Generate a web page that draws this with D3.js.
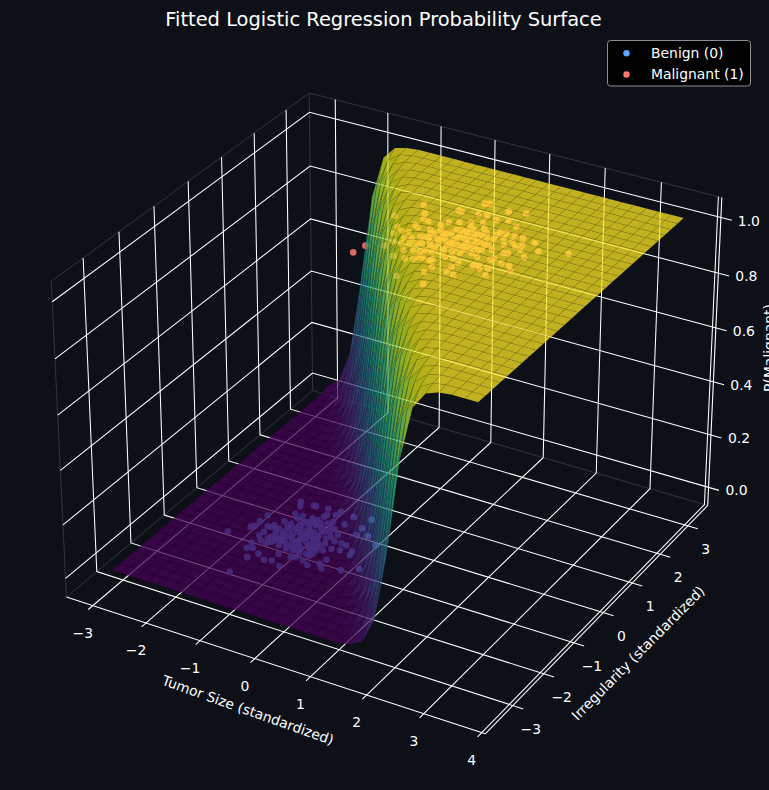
<!DOCTYPE html>
<html><head><meta charset="utf-8">
<script src="https://cdnjs.cloudflare.com/ajax/libs/d3/7.8.5/d3.min.js"></script>
<style>html,body{margin:0;padding:0;background:#0d1117;overflow:hidden}svg{display:block}text{font-family:"DejaVu Sans",sans-serif}</style>
</head><body><div id="c"></div>
<script>
const title="Fitted Logistic Regression Probability Surface";
const xLabel="Tumor Size (standardized)", yLabel="Irregularity (standardized)", zLabel="P(Malignant)";
const xTicks=[-3,-2,-1,0,1,2,3,4], yTicks=[-3,-2,-1,0,1,2,3], zTicks=[0,0.2,0.4,0.6,0.8,1];
const xLimits=[-3.5,4.06], yLimits=[-3.87,3.74], zLimits=[-0.07,1.071];
const surfaceXRange=[-3,3.56], surfaceYRange=[-3.3,3.43];
// first rising column of each grid row (left of it P is 0, past its 8 values P is 1)
const bandStart=[20,20,19,18,18,17,16,16,15,14,13,13,12,11,11,10,9,9,8,7,7,6,5,5,4,3,3,2,1,1,0];
const bandValues=[
[.008,.034,.129,.385,.725,.918,.979,.995],
[.021,.084,.281,.622,.874,.967,.992,.998],
[.013,.054,.196,.507,.813,.949,.987,.997],
[.008,.035,.132,.392,.731,.921,.980,.995],
[.022,.086,.287,.629,.878,.968,.992,.998],
[.014,.056,.201,.515,.818,.950,.988,.997],
[.009,.036,.136,.399,.737,.923,.981,.995],
[.023,.089,.293,.636,.881,.969,.993,.998],
[.014,.057,.206,.522,.822,.952,.988,.997],
[.009,.037,.139,.406,.743,.925,.981,.995],
[.006,.023,.092,.299,.643,.885,.970,.993],
[.015,.059,.211,.530,.826,.953,.988,.997],
[.009,.038,.143,.413,.748,.927,.982,.996],
[.006,.024,.094,.306,.650,.888,.971,.993],
[.015,.061,.216,.537,.831,.954,.989,.997],
[.009,.039,.147,.421,.754,.929,.982,.996],
[.006,.025,.097,.312,.657,.891,.972,.993],
[.016,.062,.221,.545,.835,.956,.989,.997],
[.010,.040,.151,.428,.760,.931,.983,.996],
[.006,.025,.100,.319,.664,.894,.973,.993],
[.016,.064,.226,.552,.839,.957,.989,.997],
[.010,.041,.154,.435,.765,.933,.983,.996],
[.006,.026,.102,.325,.670,.897,.973,.994],
[.016,.066,.231,.560,.843,.958,.990,.998],
[.010,.042,.158,.443,.770,.935,.984,.996],
[.006,.027,.105,.332,.677,.899,.974,.994],
[.017,.068,.237,.567,.847,.959,.990,.998],
[.011,.043,.162,.450,.776,.936,.984,.996],
[.007,.028,.108,.338,.684,.902,.975,.994],
[.017,.070,.242,.574,.851,.960,.990,.998],
[.011,.045,.167,.458,.781,.938,.985,.996]];
const benignX=[-2.03,-1.36,-1.35,-1.50,-1.52,-1.42,-1.25,-1.08,-.96,-.77,-.40,-.25,-.16,.14,.37,-.22,.03,0,.24,-.01,-.21,-.21,-.18,-.50,-.51,-.76,-.58,-.99,-1.20,-1.24,-1.49,-1.42,-1.37,-1.23,-1.73,-1.74,-1.78,-1.74,-1.56,-1.50,-1.36,-1.40,-1.27,-1.13,-1.09,-.96,-.92,-.90,-.71,-1.53,-1.43,-1.36,-1.24,-1.10,-1.03,-.99,-.95,-.89,-.82,-.78,-.61,-.44,-.26,-.32,-.51,-.66,-.78,-.82,-.83,-.69,-.75,-.59,-.50,-.95,-.97,-.18,-.90,-.97,-.55,-.17,-.39,-1.13,-1.19,-1.21,-1.33,-1.34,-1.52,-.78,-.41,-.62,-.53,-1.01,-.79,-.67,-.90,-1.11,-1.15,-1.07,-.67,-.51,-.68,-.86,-1.05,-1.26,-1.27,-1.48,-.76,-.66,-.91,-.88,-.92,-.96,-1.13,-.76,-.70,-.68,-.58,-.74,-.86,-1.05,-.88,-1.24,-1.22,-1.26,-1.31,-.59,-.49,-.51,-.52,-.78,-1.11,-1.02,-.95,-1.41];
const benignY=[-1.38,-2.40,-1.89,-1.66,-1.48,-1.60,-1.71,-1.82,-1.78,-1.86,-1.61,-1.48,-1.58,-1.48,-1.30,-1.32,-1.01,-.90,-.55,-.37,-.22,.09,-.44,.02,-.26,.05,-.46,.03,0,0,0,-.13,-.37,-.37,-.64,-.86,-1.08,-1.02,-.92,-.92,-.89,-.66,-.67,-.64,-.50,-.36,-.22,-.15,-.28,-1.23,-1.35,-1.25,-1.24,-1.33,-1.23,-1.09,-.89,-.79,-.70,-.55,-.57,-.59,-.78,-1.00,-1.05,-1.01,-1.02,-1.17,-1.35,-1.38,-1.54,-1.33,-1.28,-1.36,-1.55,-.97,-.51,-.61,-.78,-.79,-.78,-.76,-.85,-1.04,-1.05,-1.18,-1.10,-.08,-1.11,-1.17,-1.53,-.75,-.85,-.84,-1.04,-1.04,-1.18,-.96,-1.14,-1.16,-1.50,-.42,-.36,-.48,-.78,-.84,-.37,-.43,-.69,-.96,-1.11,-1.25,-1.17,-.84,-.74,-.61,-1.09,-1.24,-.89,-.83,-1.26,-.94,-1.17,-1.31,-1.39,-.97,-.92,-.69,-1.35,-1.32,-.57,-.46,-.48,-.92];
const malignantX=[-.36,-.31,-.05,-.42,-.21,-.05,.03,.13,.43,.36,.43,.70,.84,.61,.68,1.07,1.34,1.04,1.21,.91,.74,.57,.35,-.20,-.07,-.14,.05,.02,.09,0,.32,.36,.44,.58,.66,.82,.89,1.02,1.29,1.39,1.54,1.41,1.69,1.93,1.79,1.72,2.11,2.55,1.84,1.73,1.67,1.32,1.20,1.17,.95,.89,.78,.64,.53,.42,.28,.19,.09,.27,.40,.56,.67,.81,.81,.94,1.10,1.13,1.28,1.46,1.62,1.80,1.94,2.04,1.70,1.46,1.54,1.59,1.78,1.34,1.19,.81,.79,.93,.91,.60,1.09,.24,.43,.54,.57,.66,.94,1.08,1.21,1.19,1.37,1.60,2.01,1.54,1.33,.77,.55,.34,.63,1.02,1.00,.79,.82,1.12,1.00,1.14,.56,.40,.48,.65,.73,.82,.99,1.08,.97,.80,.74,.60,.49,.41,.25,.14,.91,.93,1.18,1.34,1.29,.68,.52,.95,1.09,1.24,.30,1.12,1.29,1.43,1.60];
const malignantY=[-.19,.10,.25,1.21,1.77,1.52,1.34,1.32,1.44,1.88,1.86,1.92,1.94,2.29,2.33,2.24,2.32,1.89,1.96,1.69,1.61,1.53,1.32,.90,.82,.68,.83,1.10,1.04,.44,.82,.97,1.15,1.10,1.28,1.31,1.41,1.52,1.56,1.58,1.56,1.85,1.56,1.50,1.35,1.25,1.28,1.45,1.19,.99,.96,1.28,1.27,1.12,1.19,1.09,.96,.94,.88,.81,.79,.68,.62,.27,.35,.44,.57,.59,.85,.73,.76,.97,.86,.97,.74,.65,.64,.50,.39,.35,.40,.33,.18,-.05,0,.23,.18,.01,-.20,-.52,-.55,.02,.04,.10,.18,.20,.40,.42,.34,.16,.65,.66,1.00,1.21,.89,.76,.63,.57,.74,.97,1.22,1.16,.79,1.10,.83,.85,1.03,1.00,1.13,1.14,1.32,1.44,1.34,1.33,1.00,1.04,.87,.92,.73,.61,.52,.45,1.16,.85,.93,1.09,1.06,.44,.35,.60,.62,.71,1.07,1.42,1.45,1.41,1.37];
const legendItems=[["Benign (0)","#58a6ff"],["Malignant (1)","#ff7b72"]];

const W=769,H=790,BG="#0d1117",INK="#ffffff";
const svg=d3.select("#c").append("svg").attr("width",W).attr("height",H).style("background",BG);

// mplot3d default view (elev 30, azim -60, box 4:4:3)
const boxUnit=1.8294640721620434*25/24/Math.sqrt(41);
const box=[4*boxUnit,4*boxUnit,3*boxUnit], R=box.map(b=>b/2), dist=10;
const sX=d3.scaleLinear().domain(xLimits).range([-R[0],R[0]]);
const sY=d3.scaleLinear().domain(yLimits).range([-R[1],R[1]]);
const sZ=d3.scaleLinear().domain(zLimits).range([-R[2],R[2]]);
const el=30*Math.PI/180,az=-60*Math.PI/180;
const w=[Math.cos(el)*Math.cos(az),Math.cos(el)*Math.sin(az),Math.sin(el)];
const uu=[-Math.sin(az),Math.cos(az),0];
const v=[-w[2]*uu[1],w[2]*uu[0],w[0]*uu[1]-w[1]*uu[0]];
const screenX=d3.scaleLinear().domain([0,1]).range([393,393+4030]);
const screenY=d3.scaleLinear().domain([0,1]).range([398,398-4030]);
const dot=(a,b)=>a[0]*b[0]+a[1]*b[1]+a[2]*b[2];
function proj(x,y,z){
  const q=[sX(x),sY(y),sZ(z)], d=dist-dot(w,q);
  return {x:screenX(dot(uu,q)/d),y:screenY(dot(v,q)/d),depth:dot(w,q)};
}
const line=d3.line().x(p=>p.x).y(p=>p.y);
const path3=(pts)=>line(pts.map(p=>proj(...p)));
const [xl,xh]=xLimits,[yl,yh]=yLimits,[zl,zh]=zLimits;

// panes
const paneG=svg.append("g").attr("fill","none").attr("stroke","#30363d").attr("stroke-width",1);
[[[xl,yl,zl],[xl,yh,zl],[xh,yh,zl]],
 [[xl,yl,zh],[xl,yh,zh],[xh,yh,zh]],
 [[xl,yh,zl],[xl,yh,zh]],
 [[xl,yl,zl],[xl,yl,zh]],
 [[xh,yh,zl],[xh,yh,zh]]].forEach(s=>paneG.append("path").attr("d",path3(s)));

// grid, ticks, axis lines
const gridG=svg.append("g").attr("fill","none").attr("stroke","#ffffff").attr("stroke-width",1.05);
const xOut=0.13,yOut=0.18,zOut=0.19;
xTicks.forEach(t=>gridG.append("path").attr("d",path3([[t,yl-xOut,zl],[t,yh,zl],[t,yh,zh]])));
yTicks.forEach(t=>gridG.append("path").attr("d",path3([[xh+yOut,t,zl],[xl,t,zl],[xl,t,zh]])));
zTicks.forEach(t=>gridG.append("path").attr("d",path3([[xl,yl,t],[xl,yh,t],[xh+zOut,yh,t]])));
[[[xl,yl,zl],[xh,yl,zl]],[[xh,yl,zl],[xh,yh,zl]],[[xh,yh,zl],[xh,yh,zh]]].forEach(s=>gridG.append("path").attr("d",path3(s)));

// scatter (behind the translucent surface)
const scatterG=svg.append("g");
const drawCloud=(xs,ys,z,col)=>scatterG.selectAll(null).data(xs.map((x,i)=>proj(x,ys[i],z))).join("circle")
  .attr("cx",p=>p.x).attr("cy",p=>p.y).attr("r",3.3).attr("fill",col).attr("fill-opacity",.85);
drawCloud(benignX,benignY,0,legendItems[0][1]);
drawCloud(malignantX,malignantY,1,legendItems[1][1]);

// surface
const N=31;
const gx=d3.scaleLinear().domain([0,N-1]).range(surfaceXRange);
const gy=d3.scaleLinear().domain([0,N-1]).range(surfaceYRange);
const zAt=(i,j)=>{const k=j-bandStart[i]; return k<0?0:k>=8?1:bandValues[i][k];};
const cells=[];
for(let i=0;i<N-1;i++)for(let j=0;j<N-1;j++){
  const c=[[j,i],[j+1,i],[j+1,i+1],[j,i+1]].map(([a,b])=>({p:proj(gx(a),gy(b),zAt(b,a)),z:zAt(b,a)}));
  cells.push({pts:c.map(d=>d.p),z:d3.mean(c,d=>d.z),depth:d3.mean(c,d=>d.p.depth)});
}
cells.sort((a,b)=>a.depth-b.depth);
const color=d3.scaleSequential(d3.interpolateViridis).domain([0,1]);
svg.append("g").selectAll("path").data(cells).join("path")
  .attr("d",d=>line(d.pts)+"Z").attr("fill",d=>color(d.z)).attr("fill-opacity",.75)
  .attr("stroke","#000").attr("stroke-opacity",.14).attr("stroke-width",.5);

// tick labels
const fmtMinus=t=>String(t).replace("-","\u2212");
const tickFont=13.9;
const lab=svg.append("g").attr("fill",INK).attr("font-size",tickFont).attr("text-anchor","middle").attr("dominant-baseline","central");
xTicks.forEach(t=>{const p=proj(t,yl,zl);lab.append("text").attr("x",p.x-10).attr("y",p.y+27).text(fmtMinus(t));});
yTicks.forEach(t=>{const p=proj(xh,t,zl);lab.append("text").attr("x",p.x+18).attr("y",p.y+23).text(fmtMinus(t));});
zTicks.forEach(t=>{const p=proj(xh,yh,t);lab.append("text").attr("x",p.x+28).attr("y",p.y+3).text(t.toFixed(1));});
const axisLab=(txt,x,y,rot)=>svg.append("text").attr("transform",`translate(${x},${y}) rotate(${rot})`).attr("fill",INK).attr("font-size",13.9).attr("text-anchor","middle").attr("dominant-baseline","central").text(txt);
axisLab(xLabel,248,710,19.6);
axisLab(yLabel,638,653,-45.3);
axisLab(zLabel,769,348,-90);

svg.append("text").attr("x",383.5).attr("y",19).attr("fill","#ffffff").attr("font-size",19.45).attr("text-anchor","middle").attr("dominant-baseline","central").text(title);

// legend
const lg=svg.append("g");
lg.append("rect").attr("x",607.5).attr("y",40.5).attr("width",143).attr("height",45.5).attr("rx",3).attr("fill","#000").attr("stroke","#8b8f94").attr("stroke-width",1);
legendItems.forEach(([t,c],i)=>{
  lg.append("circle").attr("cx",626.5).attr("cy",53.3+21.2*i).attr("r",3.2).attr("fill",c);
  lg.append("text").attr("x",651).attr("y",52.5+21.2*i).attr("fill",INK).attr("font-size",13.9).attr("dominant-baseline","central").text(t);
});
</script></body></html>
